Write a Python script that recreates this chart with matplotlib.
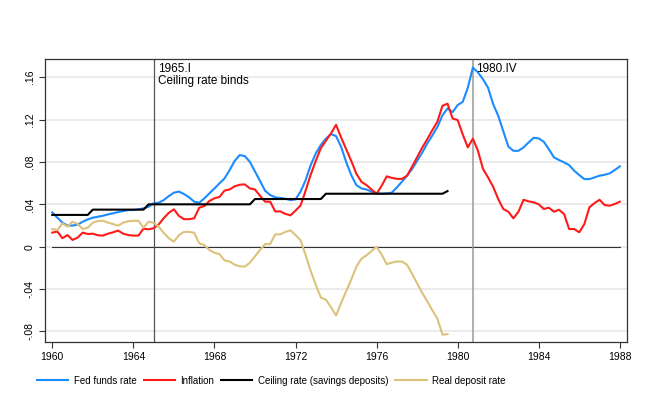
import numpy as np
import matplotlib.pyplot as plt
from matplotlib import font_manager

plt.rcParams["font.family"] = ["Liberation Sans", "DejaVu Sans"]

# quarterly values, starting 1960.I
fed_funds = [
    0.0324, 0.0274, 0.0227, 0.0200,
    0.0200, 0.0208, 0.0236, 0.0258,
    0.0274, 0.0283, 0.0292, 0.0305,
    0.0315, 0.0327, 0.0337, 0.0346,
    0.0346, 0.0352, 0.0362, 0.0377,
    0.0410, 0.0415, 0.0440, 0.0478,
    0.0510, 0.0520, 0.0497, 0.0466,
    0.0425, 0.0415, 0.0456, 0.0503,
    0.0550, 0.0598, 0.0645, 0.0723,
    0.0810, 0.0865, 0.0855, 0.0800,
    0.0710, 0.0620, 0.0528, 0.0488,
    0.0466, 0.0460, 0.0453, 0.0440,
    0.0447, 0.0520, 0.0629, 0.0770,
    0.0880, 0.0960, 0.1020, 0.1063,
    0.1044, 0.0943, 0.0800, 0.0676,
    0.0582, 0.0550, 0.0540, 0.0520,
    0.0503, 0.0500, 0.0503, 0.0510,
    0.0560, 0.0613, 0.0670, 0.0733,
    0.0810, 0.0887, 0.0975, 0.1050,
    0.1130, 0.1240, 0.1305, 0.1270,
    0.1337, 0.1367, 0.1500, 0.1690,
    0.1645, 0.1580, 0.1500, 0.1346,
    0.1236, 0.1090, 0.0946, 0.0905,
    0.0905, 0.0937, 0.0984, 0.1028,
    0.1022, 0.0990, 0.0920, 0.0843,
    0.0818, 0.0796, 0.0770, 0.0717,
    0.0676, 0.0638, 0.0638, 0.0654,
    0.0670, 0.0679, 0.0692, 0.0723,
    0.0758,
]

inflation = [
    0.0133, 0.0143, 0.0080, 0.0110,
    0.0064, 0.0086, 0.0133, 0.0120,
    0.0123, 0.0108, 0.0105, 0.0123,
    0.0136, 0.0152, 0.0123, 0.0110,
    0.0105, 0.0105, 0.0170, 0.0164,
    0.0175, 0.0210, 0.0270, 0.0320,
    0.0353, 0.0290, 0.0260, 0.0260,
    0.0268, 0.0368, 0.0384, 0.0431,
    0.0457, 0.0470, 0.0530, 0.0540,
    0.0570, 0.0585, 0.0588, 0.0550,
    0.0540, 0.0480, 0.0425, 0.0425,
    0.0333, 0.0333, 0.0310, 0.0296,
    0.0340, 0.0390, 0.0530, 0.0680,
    0.0810, 0.0930, 0.1000, 0.1070,
    0.1150, 0.1030, 0.0920, 0.0810,
    0.0690, 0.0613, 0.0582, 0.0540,
    0.0500, 0.0575, 0.0664, 0.0650,
    0.0640, 0.0640, 0.0670, 0.0755,
    0.0845, 0.0935, 0.1015, 0.1100,
    0.1180, 0.1330, 0.1350, 0.1210,
    0.1195, 0.1060, 0.0937, 0.1020,
    0.0906, 0.0733, 0.0654, 0.0566,
    0.0450, 0.0356, 0.0330, 0.0268,
    0.0330, 0.0443, 0.0428, 0.0419,
    0.0400, 0.0356, 0.0368, 0.0330,
    0.0349, 0.0308, 0.0167, 0.0167,
    0.0136, 0.0214, 0.0372, 0.0412,
    0.0443, 0.0393, 0.0387, 0.0403,
    0.0425,
]

ceiling = [
    0.030, 0.030, 0.030, 0.030,
    0.030, 0.030, 0.030, 0.030,
    0.035, 0.035, 0.035, 0.035,
    0.035, 0.035, 0.035, 0.035,
    0.035, 0.035, 0.035, 0.040,
    0.040, 0.040, 0.040, 0.040,
    0.040, 0.040, 0.040, 0.040,
    0.040, 0.040, 0.040, 0.040,
    0.040, 0.040, 0.040, 0.040,
    0.040, 0.040, 0.040, 0.040,
    0.045, 0.045, 0.045, 0.045,
    0.045, 0.045, 0.045, 0.045,
    0.045, 0.045, 0.045, 0.045,
    0.045, 0.045, 0.050, 0.050,
    0.050, 0.050, 0.050, 0.050,
    0.050, 0.050, 0.050, 0.050,
    0.050, 0.050, 0.050, 0.050,
    0.050, 0.050, 0.050, 0.050,
    0.050, 0.050, 0.050, 0.050,
    0.050, 0.050, 0.0525,
]

real_deposit = [
    0.0167, 0.0157, 0.0220, 0.0190,
    0.0236, 0.0214, 0.0167, 0.0180,
    0.0227, 0.0242, 0.0245, 0.0227,
    0.0214, 0.0198, 0.0227, 0.0240,
    0.0245, 0.0245, 0.0180, 0.0236,
    0.0225, 0.0190, 0.0130, 0.0080,
    0.0047, 0.0110, 0.0140, 0.0140,
    0.0132, 0.0032, 0.0016, -0.0031,
    -0.0057, -0.0070, -0.0130, -0.0140,
    -0.0170, -0.0185, -0.0188, -0.0150,
    -0.0090, -0.0030, 0.0025, 0.0025,
    0.0117, 0.0117, 0.0140, 0.0154,
    0.0110, 0.0060, -0.0080, -0.0230,
    -0.0360, -0.0480, -0.0500, -0.0570,
    -0.0650, -0.0530, -0.0420, -0.0310,
    -0.0190, -0.0113, -0.0082, -0.0040,
    0.0000, -0.0075, -0.0164, -0.0150,
    -0.0140, -0.0140, -0.0170, -0.0255,
    -0.0345, -0.0435, -0.0515, -0.0600,
    -0.0680, -0.0830, -0.0825,
]

yticks = [-0.08, -0.04, 0, 0.04, 0.08, 0.12, 0.16]
ytick_labels = ["-.08", "-.04", "0", ".04", ".08", ".12", ".16"]
xticks = [1960, 1964, 1968, 1972, 1976, 1980, 1984, 1988]

t_full = 1960 + np.arange(len(fed_funds)) / 4
t_ceil = 1960 + np.arange(len(ceiling)) / 4

fig = plt.figure(figsize=(6.51, 4.19), dpi=100)
ax = fig.add_axes([0.0691, 0.1838, 0.8939, 0.6753])

for y in yticks:
    ax.axhline(y, color="#e8e8e8", lw=1.2, zorder=0)

ax.plot([t_full[0], t_full[-1]], [0, 0], color="#333333", lw=0.8, zorder=1)
ax.axvline(1965.0, color="#555555", lw=0.9, zorder=1)
ax.axvline(1980.75, color="#999999", lw=1.1, zorder=1)

ax.plot(t_full, fed_funds, color="#1a8cff", lw=1.5, label="Fed funds rate", zorder=3)
ax.plot(t_full, inflation, color="#ff1a1a", lw=1.5, label="Inflation", zorder=3)
ax.plot(t_ceil, ceiling, color="black", lw=1.5, label="Ceiling rate (savings deposits)", zorder=3)
ax.plot(t_ceil, real_deposit, color="#dcc27a", lw=1.5, label="Real deposit rate", zorder=3)

ax.text(1965.22, 0.1735, "1965.I\nCeiling rate binds", fontsize=8.5, va="top", ha="left",
        linespacing=1.05)
ax.text(1980.92, 0.1735, "1980.IV", fontsize=8.5, va="top", ha="left")

ax.set_xlim(1959.64, 1988.35)
ax.set_ylim(-0.0899, 0.1771)
ax.set_xticks(xticks)
ax.set_yticks(yticks)
ax.set_yticklabels(ytick_labels, rotation=90, va="center")
ax.tick_params(labelsize=7.5, length=4, width=0.8, color="#333333")
for s in ax.spines.values():
    s.set_color("#333333")
    s.set_linewidth(0.9)

# legend text in the reference is narrow and tall
names = {f.name for f in font_manager.fontManager.ttflist}
if "Liberation Sans Narrow" in names:
    leg_font = {"family": "Liberation Sans Narrow", "size": 8.4}
    hl, hp, cs = 2.66, 0.5, 0.6
else:
    leg_font = {"family": "Liberation Sans", "size": 7}
    hl, hp, cs = 3.2, 0.6, 0.7

fig.legend(loc="center", bbox_to_anchor=(0.417, 0.091), ncol=4, frameon=False,
           prop=leg_font, handlelength=hl, handletextpad=hp, columnspacing=cs)

fig.savefig("out.png", dpi=100)
